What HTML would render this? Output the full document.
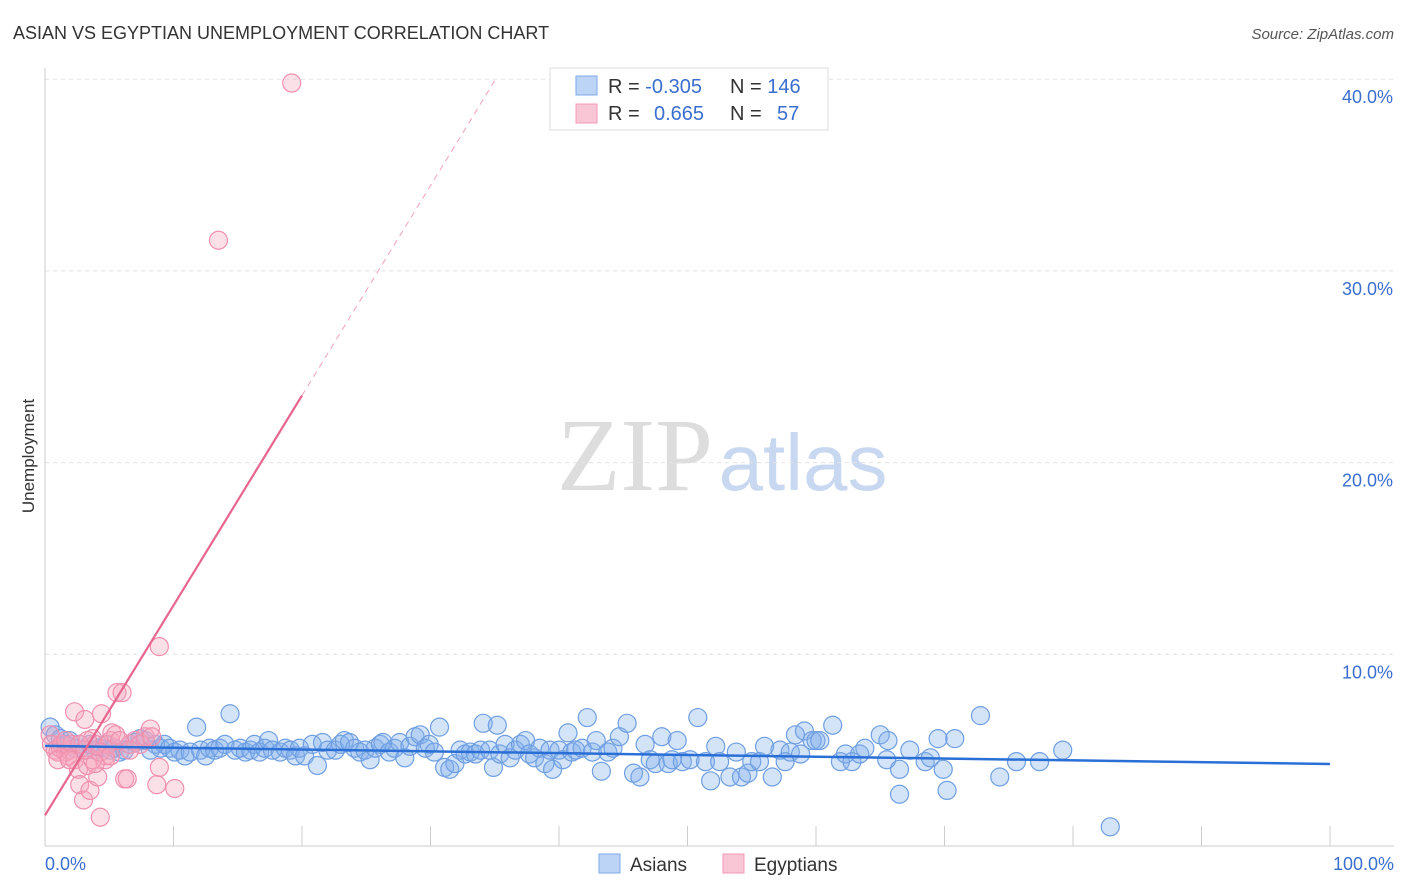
<!DOCTYPE html>
<html><head><meta charset="utf-8"><style>
body{margin:0;background:#fff;font-family:"Liberation Sans",sans-serif;}
svg{display:block}
</style></head><body>
<svg id="c" width="1406" height="892" xmlns="http://www.w3.org/2000/svg">
<text x="13" y="39" font-size="18" fill="#333">ASIAN VS EGYPTIAN UNEMPLOYMENT CORRELATION CHART</text>
<text x="1394" y="39" font-size="15" fill="#555" font-style="italic" text-anchor="end">Source: ZipAtlas.com</text>
<text transform="translate(34,456) rotate(-90)" font-size="17" fill="#333" text-anchor="middle">Unemployment</text>
<g><text x="635" y="490" font-size="104" fill="#ddd" font-family="Liberation Serif,serif" text-anchor="middle">ZIP</text><text x="803" y="490" font-size="80" fill="#c8d8f0" text-anchor="middle">atlas</text></g>
<g id="grid"></g><g id="pts"></g><g id="lines"></g>
<g>
<rect x="550" y="68" width="278" height="62" fill="#fff" stroke="#ddd"/>
<rect x="576" y="76" width="21" height="19" fill="#bcd4f6" stroke="#7ea9e8"/>
<rect x="576" y="104" width="21" height="19" fill="#f9c6d5" stroke="#f09ab5"/>
<text x="608" y="93" font-size="20" fill="#333">R = <tspan fill="#3a6fd0">-0.305</tspan></text>
<text x="730" y="93" font-size="20" fill="#333">N = <tspan fill="#3a6fd0">146</tspan></text>
<text x="608" y="120" font-size="20" fill="#333">R = <tspan fill="#3a6fd0" x="654">0.665</tspan></text>
<text x="730" y="120" font-size="20" fill="#333">N = <tspan fill="#3a6fd0" x="777">57</tspan></text>
</g>
<g>
<rect x="599" y="854" width="21" height="19" fill="#bcd4f6" stroke="#7ea9e8"/>
<text x="630" y="871" font-size="19" fill="#333">Asians</text>
<rect x="723" y="854" width="21" height="19" fill="#f9c6d5" stroke="#f09ab5"/>
<text x="754" y="871" font-size="19" fill="#333">Egyptians</text>
</g>
</svg>
<script>
const yTicks=[10,20,30,40];
const xTickLabels=["0.0%","100.0%"];
const asianX=[0.4,0.8,1.2,1.6,1.9,2.3,2.7,3.1,3.5,3.9,4.3,4.7,5.1,5.4,5.8,6.2,6.6,7.0,7.4,7.8,8.2,8.6,9.0,9.3,9.7,10.1,10.5,10.9,11.3,11.8,12.1,12.5,12.8,13.2,13.6,14.0,14.4,14.8,15.2,15.6,16.0,16.3,16.7,17.1,17.4,17.7,18.3,18.7,19.1,19.5,19.8,20.2,20.8,21.2,21.6,22.0,22.6,23.0,23.3,23.7,24.1,24.5,24.9,25.3,25.7,26.1,26.3,26.8,27.2,27.6,28.0,28.4,28.8,29.2,29.6,29.9,30.3,30.7,31.1,31.5,31.9,32.3,32.7,33.1,33.5,33.9,34.1,34.6,34.9,35.2,35.4,35.8,36.2,36.6,37.0,37.4,37.7,38.1,38.5,38.9,39.3,39.5,40.0,40.3,40.7,41.0,41.3,41.8,42.2,42.6,42.9,43.3,43.8,44.2,44.7,45.3,45.8,46.3,46.7,47.1,47.5,48.0,48.5,48.8,49.2,49.6,50.2,50.8,51.4,51.8,52.2,52.5,53.3,53.8,54.2,54.7,55.0,55.6,56.0,56.6,57.2,57.6,58.0,58.4,58.8,59.1,59.7,60.0,60.3,61.3,61.9,62.3,62.8,63.4,63.8,65.0,65.6,65.5,66.5,66.5,67.3,68.5,68.9,69.5,69.9,70.2,70.8,72.8,74.3,75.6,77.4,79.2,82.9];
const asianY=[6.2,5.8,5.6,5.3,5.5,5.1,5.3,5.0,5.3,5.0,5.1,5.3,5.0,5.1,4.9,5.0,5.3,5.4,5.6,5.5,5.0,5.3,5.1,5.3,5.1,4.9,5.0,4.7,4.9,6.2,5.0,4.7,5.1,5.0,5.1,5.3,6.9,5.0,5.1,4.9,5.0,5.3,4.9,5.1,5.5,5.0,4.9,5.1,5.0,4.7,5.1,4.7,5.3,4.2,5.4,5.0,5.0,5.3,5.5,5.4,5.1,4.9,5.0,4.5,5.1,5.3,5.4,4.9,5.1,5.4,4.6,5.2,5.7,5.8,5.1,5.3,4.9,6.2,4.1,4.0,4.3,5.0,4.8,4.9,4.8,5.0,6.4,5.0,4.1,6.3,4.8,5.3,4.6,5.0,5.3,5.5,4.8,4.6,5.1,4.3,5.0,4.0,5.0,4.5,5.9,4.9,5.0,5.1,6.7,4.9,5.5,3.9,4.9,5.1,5.7,6.4,3.8,3.6,5.3,4.5,4.3,5.7,4.3,4.5,5.5,4.4,4.5,6.7,4.4,3.4,5.2,4.4,3.6,4.9,3.6,3.8,4.4,4.4,5.2,3.6,5.0,4.4,4.9,5.8,4.8,6.0,5.5,5.5,5.5,6.3,4.4,4.8,4.4,4.8,5.1,5.8,5.5,4.5,4.0,2.7,5.0,4.4,4.6,5.6,4.0,2.9,5.6,6.8,3.6,4.4,4.4,5.0,1.0];
const egyX=[0.4,0.5,0.8,1.0,1.2,1.3,1.6,1.8,1.9,2.1,2.3,2.3,2.6,2.7,3.0,3.1,3.3,3.5,3.7,3.9,4.1,4.3,4.4,4.7,4.9,5.1,5.2,5.5,5.6,6.0,6.2,6.4,6.6,7.0,7.4,7.8,8.2,8.3,8.7,8.9,8.9,10.1,13.5,19.2,4.7,3.7,1.6,2.7,5.8,1.0,1.9,3.1,4.3,5.1,3.3,3.9,6.6];
const egyY=[5.8,5.3,5.0,4.9,5.1,5.3,4.9,4.7,5.0,5.3,7.0,4.5,4.0,3.2,2.4,6.6,4.2,2.9,5.6,5.3,3.6,1.5,6.9,4.7,5.3,5.5,5.9,5.8,8.0,8.0,3.5,3.5,5.3,5.5,5.3,5.7,6.1,5.7,3.2,4.1,10.4,3.0,31.6,39.8,4.5,4.5,5.5,5.3,5.5,4.5,4.5,5.0,4.9,4.7,5.5,4.3,5.0];
const blueFit=[5.22,4.28];
const pinkFit=[1.6,1.095];
const NS="http://www.w3.org/2000/svg";
const X=v=>45+v*12.85, Y=v=>846-v*19.17;
function mk(tag,a,p){const e=document.createElementNS(NS,tag);for(const k in a)e.setAttribute(k,a[k]);p.appendChild(e);return e;}
const g=document.getElementById('grid');
yTicks.forEach(t=>{
 const l=mk('line',{x1:45,x2:1394,y1:Y(t),y2:Y(t),stroke:'#e2e2e2','stroke-dasharray':'4,4'},g);
 
 
 const tx=mk('text',{x:1393,y:Y(t)+24,'font-size':18,fill:'#3a6fd0','text-anchor':'end'},g);
 tx.textContent=t.toFixed(1)+'%';
 
 
});
const ax=mk('line',{x1:45,x2:45,y1:68,y2:846,stroke:'#ccc'},g);


const bx=mk('line',{x1:45,x2:1394,y1:846,y2:846,stroke:'#ccc'},g);


for(let i=0;i<=10;i++){const t=mk('line',{x1:X(i*10),x2:X(i*10),y1:826,y2:846,stroke:'#ccc'},g);
 
 }
[[0,'start',45],[1,'end',1394]].forEach(([i,a,x])=>{const t=mk('text',{x:x,y:870,'font-size':18,fill:'#3a6fd0','text-anchor':a},g);t.textContent=xTickLabels[i];
 
 });
const p=document.getElementById('pts');
asianX.forEach((v,i)=>{const c=mk('circle',{cx:X(v),cy:Y(asianY[i]),r:9,fill:'rgba(130,175,235,0.35)',stroke:'#6f9fe2','stroke-width':1.2},p);
 
 });
egyX.forEach((v,i)=>{const c=mk('circle',{cx:X(v),cy:Y(egyY[i]),r:9,fill:'rgba(245,165,190,0.35)',stroke:'#f08fae','stroke-width':1.2},p);
 
 });
const L=document.getElementById('lines');
const b=mk('line',{x1:X(0),y1:Y(blueFit[0]),x2:X(100),y2:Y(blueFit[1]),stroke:'#2a6fd6','stroke-width':2.5},L);


const pf=x=>pinkFit[0]+pinkFit[1]*x;
const ps=mk('line',{x1:X(0),y1:Y(pf(0)),x2:X(20),y2:Y(pf(20)),stroke:'#e8668e','stroke-width':2.2},L);


const xe=(40-pinkFit[0])/pinkFit[1];
const pd=mk('line',{x1:X(20),y1:Y(pf(20)),x2:X(xe),y2:Y(40),stroke:'#f0a0b8','stroke-width':1,'stroke-dasharray':'6,5'},L);


</script>
</body></html>
